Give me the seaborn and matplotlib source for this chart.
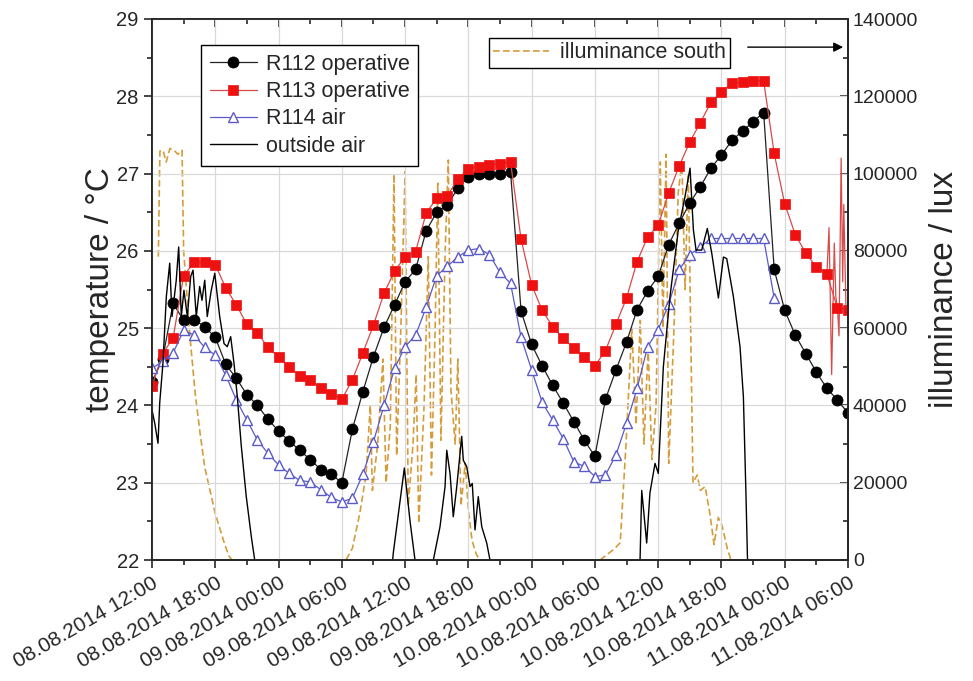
import numpy as np
import pandas as pd
import seaborn as sns
import matplotlib.pyplot as plt
import matplotlib.dates as mdates
from matplotlib.ticker import MultipleLocator

# ===============================
# DATA (hours after 08.08.2014 12:00)
# ===============================
START = pd.Timestamp("2014-08-08 12:00")

# hourly room temperatures / °C
r112_op = [24.3, 24.6, 25.32, 25.10, 25.11, 25.02, 24.88, 24.53, 24.35, 24.14,
           24.00, 23.82, 23.67, 23.54, 23.42, 23.30, 23.17, 23.11, 23.00, 23.69,
           24.18, 24.63, 25.01, 25.30, 25.60, 25.76, 26.26, 26.50, 26.59, 26.81,
           26.96, 27.00, 27.00, 27.00, 27.02, 25.22, 24.79, 24.51, 24.26, 24.03,
           23.79, 23.55, 23.34, 24.08, 24.46, 24.82, 25.24, 25.48, 25.67, 26.08,
           26.36, 26.62, 26.83, 27.07, 27.24, 27.43, 27.55, 27.67, 27.79, 25.76,
           25.23, 24.91, 24.67, 24.43, 24.22, 24.07, 23.90]

r113_op = [24.25, 24.67, 24.87, 25.68, 25.85, 25.85, 25.82, 25.52, 25.30, 25.05,
           24.94, 24.75, 24.63, 24.50, 24.38, 24.33, 24.23, 24.15, 24.08, 24.33,
           24.68, 25.04, 25.45, 25.74, 25.92, 25.99, 26.49, 26.68, 26.71, 26.93,
           27.06, 27.09, 27.11, 27.13, 27.15, 26.15, 25.56, 25.23, 25.02, 24.87,
           24.74, 24.63, 24.51, 24.71, 25.05, 25.39, 25.86, 26.18, 26.33, 26.75,
           27.10, 27.41, 27.66, 27.92, 28.06, 28.17, 28.18, 28.20, 28.20, 27.26,
           26.61, 26.21, 25.97, 25.79, 25.70, 25.26, 25.24]

r114_air = [24.48, 24.57, 24.68, 24.97, 24.91, 24.75, 24.65, 24.39, 24.07, 23.81,
            23.55, 23.38, 23.23, 23.12, 23.03, 23.01, 22.91, 22.81, 22.75, 22.80,
            23.11, 23.53, 24.00, 24.48, 24.76, 24.91, 25.27, 25.68, 25.80, 25.92,
            26.01, 26.03, 25.95, 25.72, 25.58, 24.88, 24.46, 24.04, 23.81, 23.57,
            23.27, 23.21, 23.08, 23.10, 23.36, 23.77, 24.22, 24.76, 24.98, 25.31,
            25.76, 25.95, 26.05, 26.16, 26.16, 26.16, 26.16, 26.16, 26.16, 25.39]

# R113 raw sensor spikes at the end
r113_raw_h = [64.0, 64.2, 64.45, 64.7, 64.85, 65.0, 65.15, 65.35, 65.5, 65.6, 65.8, 66.0]
r113_raw = [25.70, 26.3, 24.4, 26.1, 25.4, 25.26, 24.9, 27.2, 25.6, 26.6, 25.3, 25.24]

# outside air (values below 22 are off the axis)
outside_h = [0.0, 0.26, 0.57, 0.73, 1.04, 1.36, 1.68, 1.90, 2.30, 2.53,
             2.78, 3.03, 3.35, 3.67, 3.89, 4.20, 4.52, 4.74, 5.00, 5.24,
             5.62, 5.95, 6.42, 6.83, 7.14, 7.46, 7.78, 8.09, 8.47, 8.94,
             9.42, 9.74, 10.0,
             22.57, 22.88, 23.93, 24.47, 24.94, 25.13,
             26.46, 26.68, 27.31, 27.79, 27.95, 28.26, 28.57, 28.90, 29.37, 29.52,
             29.84, 30.16, 30.37, 30.63, 30.94, 31.27, 31.74, 32.05, 32.24,
             45.99, 46.28, 46.44, 46.91, 47.22, 47.70, 48.01, 48.49, 49.12, 49.91,
             50.54, 51.02, 51.34, 51.59, 52.13, 52.66, 53.08, 53.71, 54.19, 54.50,
             55.13, 55.76, 56.08, 56.33, 56.46, 56.62, 66.0]
outside_air = [23.94, 23.77, 23.51, 24.03, 24.55, 25.41, 25.84, 25.15, 25.62, 26.05,
               25.15, 25.49, 25.15, 25.67, 25.75, 25.15, 25.54, 25.36, 25.62, 25.15,
               25.49, 25.71, 25.15, 24.80, 24.76, 24.89, 24.54, 24.11, 23.47, 22.82,
               22.30, 22.0, 21.5,
               21.6, 22.09, 23.19, 22.5, 22.0, 21.6,
               21.6, 22.0, 22.43, 22.95, 23.42, 23.12, 22.56, 22.95, 23.60, 23.29,
               23.21, 22.95, 22.99, 22.39, 22.82, 22.43, 22.22, 22.0, 21.5,
               21.5, 22.0, 22.9, 22.22, 22.87, 23.25, 23.12, 24.5, 25.41, 26.27,
               26.70, 27.07, 26.27, 26.01, 26.01, 26.29, 25.97, 25.39, 25.92, 25.90,
               25.41, 24.76, 24.11, 22.82, 22.06, 21.5, 21.5]

# illuminance south / lux
illum_h = [0.6, 0.75, 1.05, 1.35, 1.7, 2.1, 2.45, 2.85, 3.0, 3.6,
           4.1, 4.55, 5.0, 5.5, 6.0, 6.45, 6.9, 7.3, 7.6,
           18.4, 19.0, 19.7, 20.3, 20.7, 20.9, 21.4, 21.9, 22.2, 22.6,
           22.95, 23.2, 23.6, 24.0, 24.3, 24.75, 25.05, 25.3, 25.8, 26.2,
           26.5, 26.85, 27.1, 27.4, 27.8, 28.1, 28.35, 28.75, 29.0, 29.3,
           29.7, 30.0, 30.35, 30.75, 31.1,
           42.5, 43.2, 43.9, 44.4, 44.95, 45.5, 45.9, 46.3, 46.65, 47.05,
           47.4, 47.8, 48.2, 48.45, 48.75, 49.0, 49.5, 49.9, 50.25, 50.55,
           50.85, 51.0, 51.3, 51.7, 52.0, 52.45, 52.9, 53.3, 53.7, 54.05,
           54.55, 54.9]
illum_south = [78500, 105800, 106000, 103000, 106500, 106000, 105000, 106000, 80000, 57800,
               43000, 33000, 24000, 18000, 12000, 8000, 4000, 1000, 0,
               0, 3000, 12000, 22000, 40000, 18000, 30000, 52000, 20000, 35000,
               100000, 27000, 60000, 100500, 14000, 30000, 48000, 9500, 40000, 78500,
               22000, 60000, 97500, 31000, 80000, 103500, 44000, 30000, 52000, 14000,
               25000, 13000, 5000, 1500, 0,
               0, 1500, 3000, 4500, 30000, 60000, 35000, 62000, 30000, 55000,
               26000, 40000, 103000, 60000, 105000, 25000, 60000, 95000, 103000, 70000,
               100000, 75000, 20000, 22000, 18000, 19000, 12000, 4000, 11000, 9000,
               3000, 0]


def to_time(hours):
    return START + pd.to_timedelta(np.asarray(hours, dtype=float), unit="h")


# ===============================
# STYLE
# ===============================
sns.set_style("ticks")
plt.rcParams["font.family"] = ["Liberation Sans", "DejaVu Sans"]
plt.rcParams["axes.linewidth"] = 1.3

fig = plt.figure(figsize=(9.73, 6.81), dpi=100)
ax = fig.add_axes([152 / 973, 1 - 560 / 681, 696 / 973, 541 / 681])
ax2 = ax.twinx()
ax.set_zorder(ax2.get_zorder() + 1)
ax.patch.set_visible(False)
ax2.patch.set_visible(True)
ax2.patch.set_facecolor("white")

# ===============================
# ILLUMINANCE (right axis)
# ===============================
sns.lineplot(x=to_time(illum_h), y=illum_south, ax=ax2, color="#d69c3c",
             lw=1.2, estimator=None)
l_ill = ax2.lines[-1]
l_ill.set_dashes([4, 2])

# ===============================
# TEMPERATURES (left axis)
# ===============================
t_hour = to_time(np.arange(len(r112_op)))

sns.lineplot(x=t_hour, y=r112_op, ax=ax, color="#222222", lw=0.9, estimator=None,
             marker="o", markersize=8, markerfacecolor="black",
             markeredgecolor="black", markeredgewidth=0.5)
l112 = ax.lines[-1]

sns.lineplot(x=to_time(r113_raw_h), y=r113_raw, ax=ax, color="#d84a4a", lw=0.9,
             estimator=None)
sns.lineplot(x=t_hour, y=r113_op, ax=ax, color="#d84a4a", lw=0.9, estimator=None,
             marker="s", markersize=6.5, markerfacecolor="#ee1111",
             markeredgecolor="#ee1111", markeredgewidth=0.5)
l113 = ax.lines[-1]

sns.lineplot(x=to_time(np.arange(len(r114_air))), y=r114_air, ax=ax,
             color="#5a5ac8", lw=0.9, estimator=None,
             marker="^", markersize=7.5, markerfacecolor="white",
             markeredgecolor="#5a5ac8", markeredgewidth=1.0)
l114 = ax.lines[-1]

sns.lineplot(x=to_time(outside_h), y=outside_air, ax=ax, color="black", lw=1.0,
             estimator=None, sort=False)
lout = ax.lines[-1]

# ===============================
# AXES
# ===============================
ax.set_xlim(START, START + pd.Timedelta(hours=66))
ax.set_ylim(22, 29)
ax2.set_ylim(0, 140000)

ax.xaxis.set_major_locator(mdates.HourLocator(byhour=[0, 6, 12, 18]))
ax.xaxis.set_minor_locator(mdates.HourLocator(byhour=[0, 3, 6, 9, 12, 15, 18, 21]))
ax.xaxis.set_major_formatter(mdates.DateFormatter("%d.%m.%Y %H:%M"))
ax.yaxis.set_major_locator(MultipleLocator(1))
ax.yaxis.set_minor_locator(MultipleLocator(0.5))
ax2.yaxis.set_major_locator(MultipleLocator(20000))
ax2.yaxis.set_minor_locator(MultipleLocator(10000))

ax.grid(True, which="major", color="#d9d9d9", lw=0.9)
ax2.grid(False)

ax.tick_params(axis="both", which="both", direction="out", top=False, right=False,
               labelsize=14.5, width=1.2)
ax.tick_params(axis="x", labelsize=15)
ax.tick_params(which="major", length=6)
ax.tick_params(which="minor", length=3.5)
ax2.tick_params(axis="y", which="both", direction="in", labelsize=14, width=1.2)
ax2.tick_params(axis="y", which="major", length=6)
ax2.tick_params(axis="y", which="minor", length=3.5)

# top ticks pointing inwards
ax2.xaxis.set_visible(True)
ax2.tick_params(axis="x", which="both", bottom=False, top=True, labelbottom=False,
                labeltop=False, direction="in", width=1.2)
ax2.tick_params(axis="x", which="major", length=6)
ax2.tick_params(axis="x", which="minor", length=3.5)
ax2.set_xlabel("")

for lab in ax.get_xticklabels():
    lab.set_rotation(30)
    lab.set_ha("right")
    lab.set_rotation_mode("anchor")

ax.set_xlabel("")
ax.set_ylabel("temperature / °C", fontsize=24)
ax.yaxis.set_label_coords(-0.052, 0.5)
ax2.set_ylabel("illuminance / lux", fontsize=24, labelpad=8)

for side in ["left", "right", "top", "bottom"]:
    ax.spines[side].set_visible(True)
    ax2.spines[side].set_visible(True)

# ===============================
# LEGENDS
# ===============================
leg1 = ax.legend([l112, l113, l114, lout],
                 ["R112 operative", "R113 operative", "R114 air", "outside air"],
                 loc="upper left", bbox_to_anchor=(0.0704, 0.952), borderaxespad=0,
                 fontsize=15.5, frameon=True, fancybox=False, framealpha=1,
                 edgecolor="black", handlelength=2.2, handletextpad=0.4,
                 labelspacing=0.3, borderpad=0.4)
leg1.get_frame().set_linewidth(1.0)
ax.add_artist(leg1)

leg2 = ax.legend([l_ill], ["illuminance south"], loc="upper left",
                 bbox_to_anchor=(0.484, 0.965), borderaxespad=0, fontsize=15.5,
                 frameon=True, fancybox=False, framealpha=1, edgecolor="black",
                 handlelength=2.6, handletextpad=0.5, borderpad=0.2)
leg2.get_frame().set_linewidth(1.0)

ax.annotate("", xy=(0.997, 0.948), xytext=(0.852, 0.948), xycoords="axes fraction",
            arrowprops=dict(arrowstyle="-|>", color="black", lw=1.0,
                            mutation_scale=14))

fig.savefig("out.png", dpi=100)
